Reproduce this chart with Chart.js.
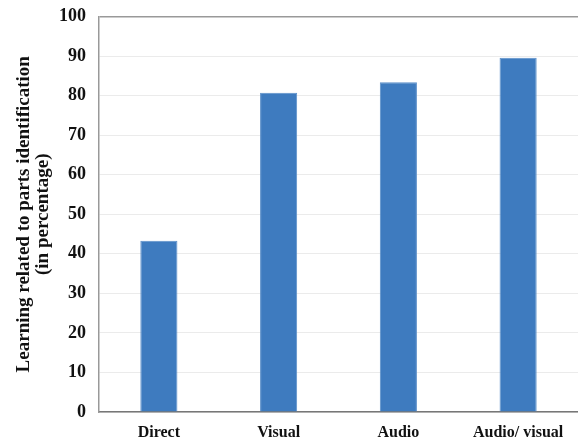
<!DOCTYPE html>
<html lang="en">
<head>
    <meta charset="UTF-8">
    <title>Learning related to parts identification</title>
    <script src="https://cdn.jsdelivr.net/npm/chart.js"></script>
    <style>
        body {
            margin: 0;
            padding: 0;
            background-color: #fff;
        }

        #wrap {
            width: 578px;
            height: 440px;
        }
    </style>
</head>
<body>
    <div id="wrap">
        <canvas id="learningChart"></canvas>
    </div>

    <script>
        const methods = ['Direct', 'Visual', 'Audio', 'Audio/ visual'];
        const learningPct = [43.3, 80.7, 83.4, 89.6];
        const yTicks = [0, 10, 20, 30, 40, 50, 60, 70, 80, 90, 100];

        const serif = "'Liberation Serif', 'Times New Roman', serif";

        const ctx = document.getElementById('learningChart').getContext('2d');
        new Chart(ctx, {
            type: 'bar',
            data: {
                labels: methods,
                datasets: [{
                    data: learningPct,
                    backgroundColor: '#3e7bbf',
                    borderColor: '#5b8fc9',
                    borderWidth: 1,
                    barPercentage: 0.31,
                    categoryPercentage: 1
                }]
            },
            options: {
                responsive: true,
                maintainAspectRatio: false,
                animation: false,
                layout: {
                    padding: { top: 0, right: 0, bottom: 0, left: 0 }
                },
                plugins: {
                    legend: { display: false },
                    tooltip: { enabled: false }
                },
                scales: {
                    x: {
                        grid: { display: false, drawTicks: false },
                        border: { color: '#777', width: 1.5 },
                        ticks: {
                            color: '#111',
                            padding: 11,
                            font: { family: serif, size: 16, weight: 'bold' }
                        },
                        afterFit: scale => { scale.height = 28; }
                    },
                    y: {
                        min: 0,
                        max: 100,
                        afterBuildTicks: scale => {
                            scale.ticks = yTicks.map(v => ({ value: v }));
                        },
                        grid: {
                            drawTicks: false,
                            color: ctx => ctx.tick && ctx.tick.value === 100 ? '#999' : '#ebebeb',
                            lineWidth: ctx => ctx.tick && ctx.tick.value === 100 ? 1.5 : 1
                        },
                        border: { color: '#999', width: 1.5 },
                        ticks: {
                            color: '#111',
                            padding: 13,
                            font: { family: serif, size: 18, weight: 'bold', lineHeight: '7px' }
                        },
                        title: {
                            display: true,
                            text: ['Learning related to parts identification', '(in percentage)'],
                            color: '#111',
                            padding: { top: 15, bottom: 0 },
                            font: { family: serif, size: 19, weight: 'bold', lineHeight: 1.0 }
                        },
                        afterFit: scale => { scale.width = 99; }
                    }
                }
            }
        });
    </script>
</body>
</html>
